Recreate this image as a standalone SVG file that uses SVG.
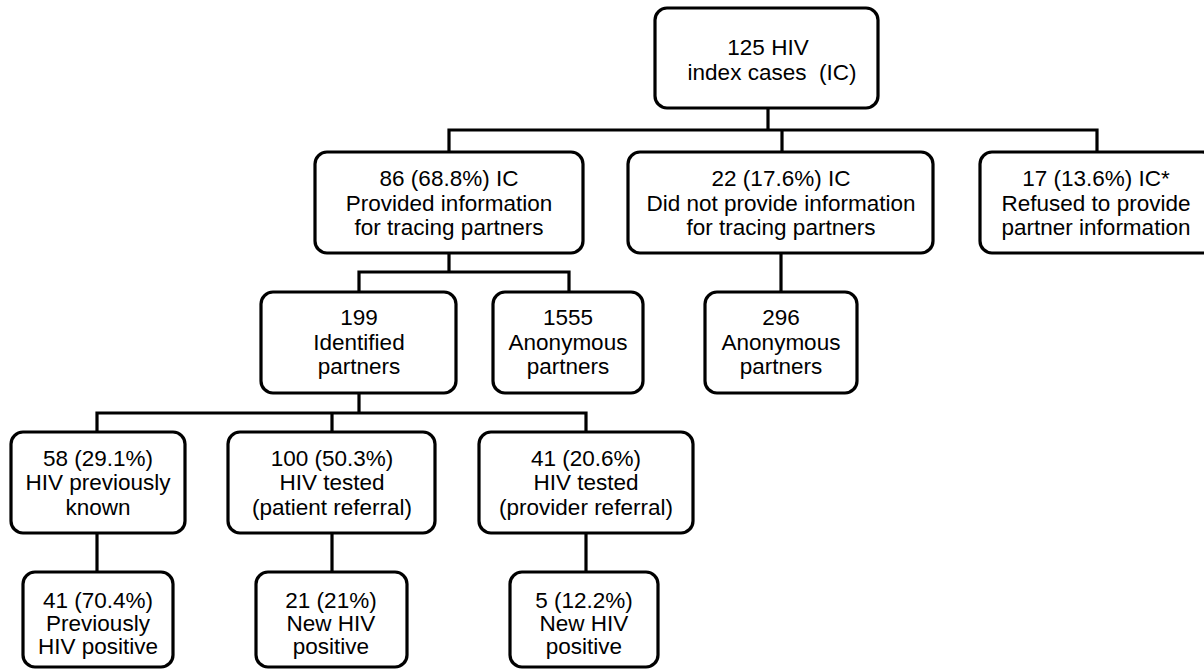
<svg xmlns="http://www.w3.org/2000/svg" width="1204" height="670" viewBox="0 0 1204 670">
<style>
  .box { fill: #ffffff; stroke: #000000; stroke-width: 3.2; }
  .conn { fill: none; stroke: #000000; stroke-width: 3.2; stroke-linejoin: miter; }
  text { font-family: "Liberation Sans", Arial, Helvetica, sans-serif; font-size: 22.5px; fill: #000000; text-anchor: middle; white-space: pre; }
</style>
<rect width="1204" height="670" fill="#ffffff"/>
<g id="connectors">
  <path class="conn" d="M768,108 V130"/>
  <path class="conn" d="M449,152 V130 H1097 V152"/>
  <path class="conn" d="M782,130 V152"/>
  <path class="conn" d="M449,253 V272"/>
  <path class="conn" d="M359,292 V272 H569 V292"/>
  <path class="conn" d="M781,253 V292"/>
  <path class="conn" d="M359,393 V413"/>
  <path class="conn" d="M97,432 V413 H586 V432"/>
  <path class="conn" d="M332,413 V432"/>
  <path class="conn" d="M97,533 V572"/>
  <path class="conn" d="M332,533 V572"/>
  <path class="conn" d="M586,533 V572"/>
</g>
<g id="node-index">
  <rect class="box" x="655" y="8" width="223" height="100" rx="12"/>
  <text x="768" y="55">125 HIV</text>
  <text x="772" y="80">index cases  (IC)</text>
</g>
<g id="node-provided">
  <rect class="box" x="315" y="152" width="268" height="101" rx="12"/>
  <text x="449" y="186">86 (68.8%) IC</text>
  <text x="449" y="211">Provided information</text>
  <text x="449" y="235">for tracing partners</text>
</g>
<g id="node-notprovided">
  <rect class="box" x="628" y="152" width="305" height="101" rx="12"/>
  <text x="781" y="186">22 (17.6%) IC</text>
  <text x="781" y="211">Did not provide information</text>
  <text x="781" y="235">for tracing partners</text>
</g>
<g id="node-refused">
  <rect class="box" x="980" y="152" width="234" height="101" rx="12"/>
  <text x="1096" y="186">17 (13.6%) IC*</text>
  <text x="1096" y="211">Refused to provide</text>
  <text x="1096" y="235">partner information</text>
</g>
<g id="node-identified">
  <rect class="box" x="261" y="292" width="195" height="101" rx="12"/>
  <text x="359" y="325">199</text>
  <text x="359" y="350">Identified</text>
  <text x="359" y="374">partners</text>
</g>
<g id="node-anon1555">
  <rect class="box" x="493" y="292" width="150" height="101" rx="12"/>
  <text x="568" y="325">1555</text>
  <text x="568" y="350">Anonymous</text>
  <text x="568" y="374">partners</text>
</g>
<g id="node-anon296">
  <rect class="box" x="705" y="292" width="152" height="101" rx="12"/>
  <text x="781" y="325">296</text>
  <text x="781" y="350">Anonymous</text>
  <text x="781" y="374">partners</text>
</g>
<g id="node-known">
  <rect class="box" x="11" y="432" width="174" height="101" rx="12"/>
  <text x="98" y="466">58 (29.1%)</text>
  <text x="98" y="490">HIV previously</text>
  <text x="98" y="515">known</text>
</g>
<g id="node-patient">
  <rect class="box" x="228" y="432" width="207" height="101" rx="12"/>
  <text x="332" y="466">100 (50.3%)</text>
  <text x="332" y="490">HIV tested</text>
  <text x="332" y="515">(patient referral)</text>
</g>
<g id="node-provider">
  <rect class="box" x="479" y="432" width="214" height="101" rx="12"/>
  <text x="586" y="466">41 (20.6%)</text>
  <text x="586" y="490">HIV tested</text>
  <text x="586" y="515">(provider referral)</text>
</g>
<g id="node-prevpos">
  <rect class="box" x="23" y="572" width="150" height="95" rx="12"/>
  <text x="98" y="608">41 (70.4%)</text>
  <text x="98" y="631">Previously</text>
  <text x="98" y="654">HIV positive</text>
</g>
<g id="node-newpos1">
  <rect class="box" x="256" y="572" width="151" height="95" rx="12"/>
  <text x="331" y="608">21 (21%)</text>
  <text x="331" y="631">New HIV</text>
  <text x="331" y="654">positive</text>
</g>
<g id="node-newpos2">
  <rect class="box" x="510" y="572" width="148" height="95" rx="12"/>
  <text x="584" y="608">5 (12.2%)</text>
  <text x="584" y="631">New HIV</text>
  <text x="584" y="654">positive</text>
</g>
</svg>
